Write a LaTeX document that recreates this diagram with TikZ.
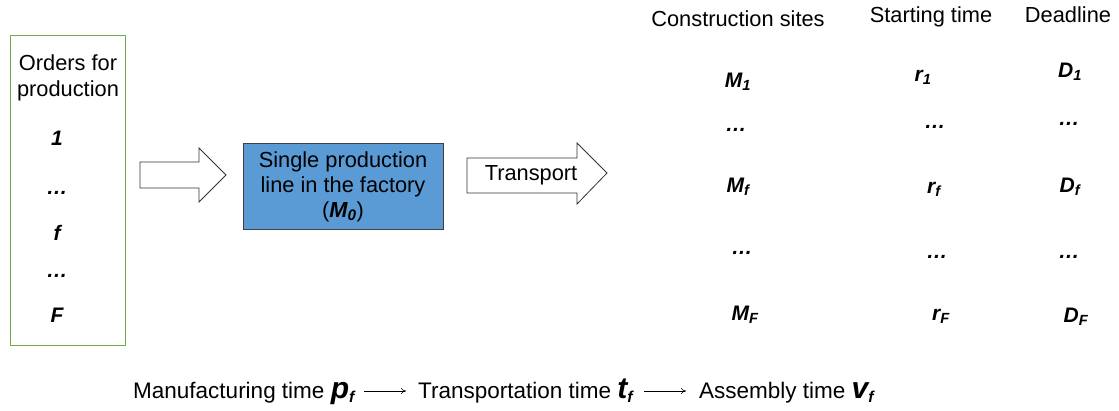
\documentclass[tikz,border=0pt]{standalone}
\usepackage{fontspec}
\setmainfont{Liberation Sans}
\usetikzlibrary{calc,arrows.meta}
\definecolor{boxgreen}{HTML}{70AD47}
\definecolor{boxblue}{HTML}{5B9BD5}
\begin{document}
\begin{tikzpicture}[x=1pt,y=-1pt,
  txt/.style={inner sep=0pt,anchor=base,font=\fontsize{21.8}{26}\selectfont},
  var/.style={inner sep=0pt,anchor=base,font=\fontsize{21}{26}\selectfont\bfseries\itshape},
  big/.style={inner sep=0pt,anchor=base west,font=\fontsize{22.5}{26}\selectfont},
  blockarrow/.style={draw=black!80,fill=white,line width=0.8pt,line join=miter}]
\useasboundingbox (0,0) rectangle (1119,410);
% left box
\node[draw=boxgreen,line width=0.9pt,minimum width=115pt,minimum height=310pt,inner sep=0pt] (orders) at (67.5,190) {};
\node[txt] (o1) at (68,70) {Orders for};
\node[txt] (o2) at (68,96) {production};
\node[var] (i1) at (57,145) {1};
\node[var] (i2) at (57,194) {…};
\node[var] (i3) at (57,240) {f};
\node[var] (i4) at (57,277) {…};
\node[var] (i5) at (57,322) {F};
% arrow 1
\draw[blockarrow] (140,162) -- (199,162) -- (199,148) -- (226,175) -- (199,202) -- (199,188) -- (140,188) -- cycle;
% blue box
\node[draw=black!75,fill=boxblue,line width=0.8pt,minimum width=200pt,minimum height=86pt,inner sep=0pt] (line) at (343,186) {};
\node[txt] (l1) at (343,167) {Single production};
\node[txt] (l2) at (343,192) {line in the factory};
\node[txt] (l3) at (343,217) {(\textbf{\textit{M\textsubscript{0}}})};
% transport arrow
\draw[blockarrow] (467,158) -- (577,158) -- (577,143) -- (607,173) -- (577,204) -- (577,193) -- (467,193) -- cycle;
\node[txt] (tr) at (531,180) {Transport};
% headers
\node[txt] (h1) at (738,26) {Construction sites};
\node[txt] (h2) at (931,22) {Starting time};
\node[txt] (h3) at (1068,22) {Deadline};
% rows
\node[var] (m1) at (738,87) {M\textsubscript{1}};
\node[var] (r1) at (923,81) {r\textsubscript{1}};
\node[var] (d1) at (1070,77) {D\textsubscript{1}};
\node[var] (m2) at (736,131) {…};
\node[var] (r2) at (935,128) {…};
\node[var] (d2) at (1069,125) {…};
\node[var] (mf) at (738,192) {M\textsubscript{f}};
\node[var] (rf) at (934,193) {r\textsubscript{f}};
\node[var] (df) at (1070,192) {D\textsubscript{f}};
\node[var] (m3) at (742,254) {…};
\node[var] (r3) at (937,258) {…};
\node[var] (d3) at (1069,258) {…};
\node[var] (mF) at (745,320) {M\textsubscript{F}};
\node[var] (rF) at (941,320) {r\textsubscript{F}};
\node[var] (dF) at (1076,322) {D\textsubscript{F}};
% bottom line
\node[big] (mfg) at (133,398) {Manufacturing time \textbf{\textit{{\fontsize{30}{30}\selectfont p}\textsubscript{f}}}};
\node[big] (trn) at (418,398) {Transportation time \textbf{\textit{{\fontsize{30}{30}\selectfont t}\textsubscript{f}}}};
\node[big] (asm) at (699,398) {Assembly time \textbf{\textit{{\fontsize{30}{30}\selectfont v}\textsubscript{f}}}};
\draw[-{To[length=5pt,width=6pt]},line width=0.6pt] ($(trn.base west)+(-54,-7)$) -- ($(trn.base west)+(-12,-7)$);
\draw[-{To[length=5pt,width=6pt]},line width=0.6pt] ($(asm.base west)+(-55,-7)$) -- ($(asm.base west)+(-13,-7)$);
\end{tikzpicture}
\end{document}
